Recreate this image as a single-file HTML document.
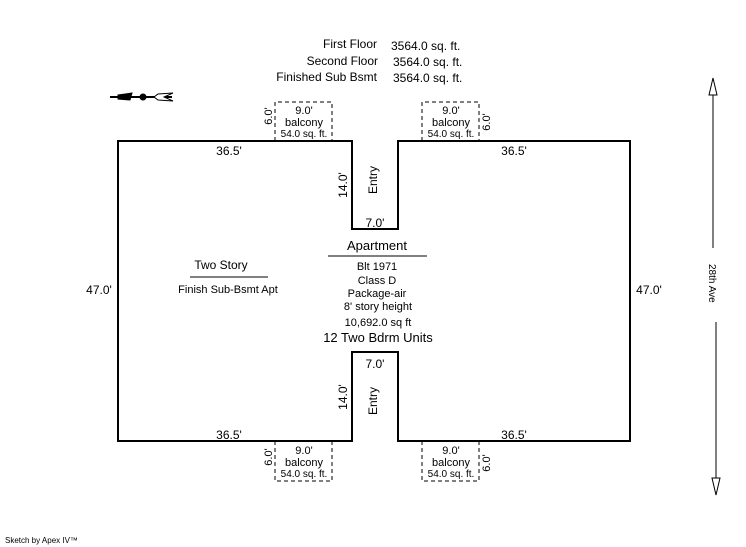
<!DOCTYPE html>
<html><head><style>body{margin:0;background:#fff}svg{display:block}text{font-family:"Liberation Sans",sans-serif;fill:#000}</style></head>
<body>
<svg width="746" height="547" xmlns="http://www.w3.org/2000/svg">
<g font-size="12">
<text x="377" y="48" text-anchor="end">First Floor</text>
<text x="391" y="50">3564.0 sq. ft.</text>
<text x="378" y="65" text-anchor="end">Second Floor</text>
<text x="393" y="66">3564.0 sq. ft.</text>
<text x="377" y="81" text-anchor="end">Finished Sub Bsmt</text>
<text x="393" y="82">3564.0 sq. ft.</text>
</g>
<!-- compass -->
<g stroke="#000" fill="none">
<line x1="110" y1="97" x2="172" y2="97" stroke-width="2"/>
<circle cx="143" cy="97" r="3" fill="#000"/>
<path d="M173,93 L158,94 L154,97 L158,100 L173,101 L164,97 Z" fill="#fff"/>
<polygon points="118,95 132,93 130,100 118,99" fill="#000"/>
</g>
<!-- building -->
<path d="M118,141 H352 V229 H398 V141 H630 V441 H398 V352 H352 V441 H118 Z" fill="none" stroke="#000" stroke-width="2"/>
<!-- balconies -->
<g fill="none" stroke="#000" stroke-dasharray="4,3">
<path d="M275,141 V102 H332 V141"/>
<path d="M422,141 V102 H479 V141"/>
<path d="M275,441 V481 H332 V441"/>
<path d="M422,441 V481 H479 V441"/>
</g>
<g font-size="11" text-anchor="middle">
<text x="304" y="114">9.0'</text><text x="304" y="126">balcony</text><text x="304" y="137" font-size="10">54.0 sq. ft.</text>
<text x="451" y="114">9.0'</text><text x="451" y="126">balcony</text><text x="451" y="137" font-size="10">54.0 sq. ft.</text>
<text x="304" y="454">9.0'</text><text x="304" y="466">balcony</text><text x="304" y="477" font-size="10">54.0 sq. ft.</text>
<text x="451" y="454">9.0'</text><text x="451" y="466">balcony</text><text x="451" y="477" font-size="10">54.0 sq. ft.</text>
<text transform="translate(272,116) rotate(-90)">6.0'</text>
<text transform="translate(490,122) rotate(-90)">6.0'</text>
<text transform="translate(272,457) rotate(-90)">6.0'</text>
<text transform="translate(490,463) rotate(-90)">6.0'</text>
</g>
<g font-size="12" text-anchor="middle">
<text x="229" y="155">36.5'</text>
<text x="514" y="155">36.5'</text>
<text x="229" y="439">36.5'</text>
<text x="514" y="439">36.5'</text>
<text x="99" y="294">47.0'</text>
<text x="649" y="294">47.0'</text>
<text x="375" y="227">7.0'</text>
<text x="375" y="368">7.0'</text>
<text transform="translate(347,185) rotate(-90)">14.0'</text>
<text transform="translate(347,397) rotate(-90)">14.0'</text>
<text transform="translate(377,180) rotate(-90)">Entry</text>
<text transform="translate(377,401) rotate(-90)">Entry</text>
<text x="221" y="269">Two Story</text>
<text x="228" y="293" font-size="11">Finish Sub-Bsmt Apt</text>
<text x="377" y="250" font-size="13">Apartment</text>
<text x="377" y="270" font-size="11">Blt 1971</text>
<text x="377" y="284" font-size="11">Class D</text>
<text x="377" y="297" font-size="11">Package-air</text>
<text x="378" y="310" font-size="11">8' story height</text>
<text x="378" y="326" font-size="11">10,692.0 sq ft</text>
<text x="378" y="342" font-size="13">12 Two Bdrm Units</text>
</g>
<line x1="190" y1="277" x2="268" y2="277" stroke="#000"/>
<line x1="328" y1="256" x2="427" y2="256" stroke="#000"/>
<!-- road -->
<g stroke="#000" fill="#fff">
<line x1="713" y1="90" x2="713" y2="248"/>
<line x1="716" y1="322" x2="716" y2="483"/>
<polygon points="713,78 709,95 717,95"/>
<polygon points="716,495 712,478 720,478"/>
</g>
<text transform="translate(709,264) rotate(90)" font-size="10">28th Ave</text>
<text x="5" y="543" font-size="8">Sketch by Apex IV™</text>
</svg>
</body></html>
